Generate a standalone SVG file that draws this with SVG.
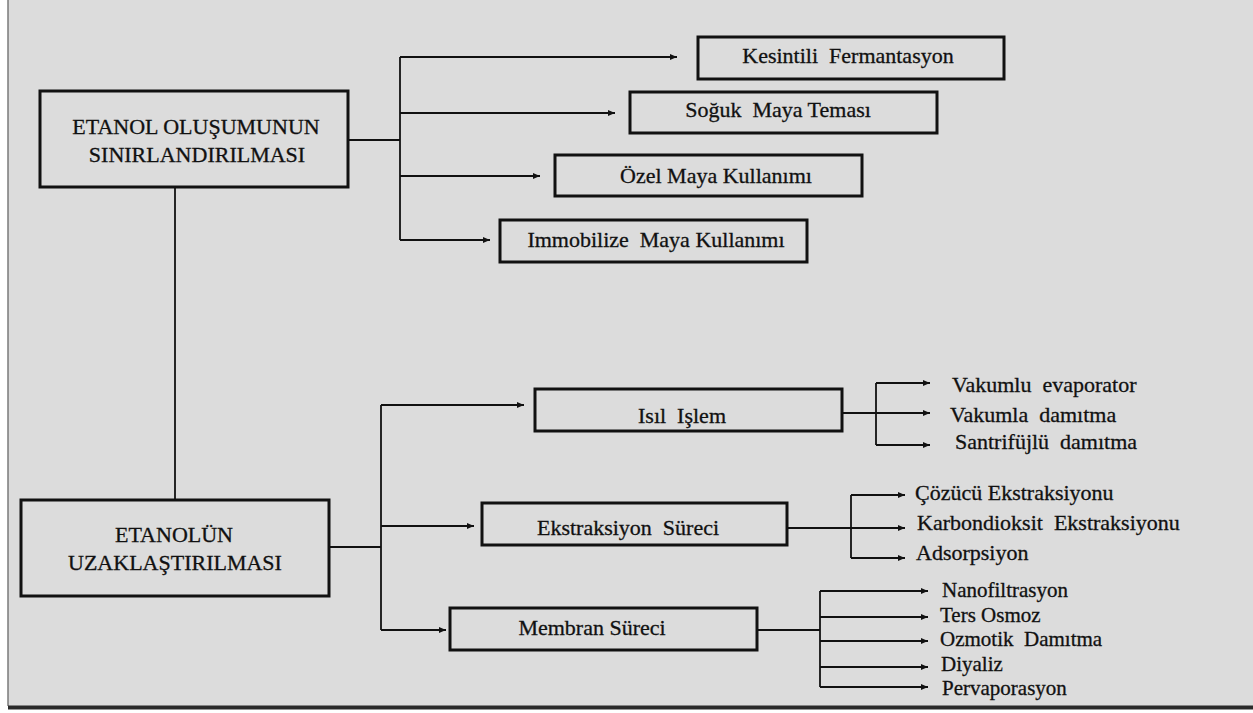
<svg xmlns="http://www.w3.org/2000/svg" width="1253" height="713" viewBox="0 0 1253 713">
<style>
.bg{fill:#dcdcdc}
.box{fill:none;stroke:#111;stroke-width:3}
.ln{fill:none;stroke:#111;stroke-width:1.8}
.arr{fill:none;stroke:#111;stroke-width:1.8;marker-end:url(#ah)}
.t{font-family:'Liberation Serif','Times New Roman','DejaVu Serif',serif;font-size:22px;fill:#111;stroke:#111;stroke-width:0.3}
.s{font-size:21px}
.c{text-anchor:middle}
</style>
<defs>
<marker id="ah" markerUnits="userSpaceOnUse" markerWidth="8" markerHeight="8" refX="7" refY="3" orient="auto">
<path d="M0,0 L7,3 L0,6 z" fill="#111"/>
</marker>
</defs>
<rect x="0" y="0" width="1253" height="713" fill="#ffffff"/>
<rect class="bg" x="8" y="0" width="1245" height="706"/>
<line x1="8" y1="0" x2="8" y2="706" stroke="#7a7a7a" stroke-width="1.5"/>
<line x1="8" y1="707.5" x2="1253" y2="707.5" stroke="#2a2a2a" stroke-width="4"/>

<g id="connectors">
<path class="ln" d="M348,140 H400"/>
<path class="ln" d="M400,57 V240"/>
<path class="arr" d="M400,57 H677"/>
<path class="arr" d="M400,113 H615"/>
<path class="arr" d="M400,176 H540"/>
<path class="arr" d="M400,240 H490"/>
<path class="ln" d="M175,187 V500"/>
<path class="ln" d="M329,547 H381"/>
<path class="ln" d="M381,405 V630"/>
<path class="arr" d="M381,405 H524"/>
<path class="arr" d="M381,526 H474"/>
<path class="arr" d="M381,630 H446"/>
<path class="ln" d="M842,413 H876"/>
<path class="ln" d="M876,383 V445"/>
<path class="arr" d="M876,383 H930"/>
<path class="arr" d="M876,413 H930"/>
<path class="arr" d="M876,445 H930"/>
<path class="ln" d="M787,528 H851"/>
<path class="ln" d="M851,495 V558"/>
<path class="arr" d="M851,495 H905"/>
<path class="arr" d="M851,528 H905"/>
<path class="arr" d="M851,558 H905"/>
<path class="ln" d="M757,630 H820"/>
<path class="ln" d="M820,591 V687"/>
<path class="arr" d="M820,591 H928"/>
<path class="arr" d="M820,617 H928"/>
<path class="arr" d="M820,641 H928"/>
<path class="arr" d="M820,667 H928"/>
<path class="arr" d="M820,687 H928"/>
</g>

<g id="etanol-olusumu">
<rect class="box" x="40" y="91" width="308" height="96"/>
<text class="t c" x="196" y="134">ETANOL OLUŞUMUNUN</text>
<text class="t c" x="197" y="162">SINIRLANDIRILMASI</text>
</g>
<g id="kesintili">
<rect class="box" x="698" y="37" width="306" height="42"/>
<text class="t c" x="848" y="63" xml:space="preserve">Kesintili  Fermantasyon</text>
</g>
<g id="soguk">
<rect class="box" x="630" y="92" width="307" height="41"/>
<text class="t c" x="778" y="117" xml:space="preserve">Soğuk  Maya Teması</text>
</g>
<g id="ozel">
<rect class="box" x="555" y="155" width="307" height="41"/>
<text class="t c" x="716" y="183">Özel Maya Kullanımı</text>
</g>
<g id="immobilize">
<rect class="box" x="500" y="220" width="307" height="42"/>
<text class="t c" x="656" y="247" xml:space="preserve">Immobilize  Maya Kullanımı</text>
</g>

<g id="etanol-uzak">
<rect class="box" x="21" y="500" width="308" height="96"/>
<text class="t c" x="174" y="542">ETANOLÜN</text>
<text class="t c" x="175" y="570">UZAKLAŞTIRILMASI</text>
</g>
<g id="isil">
<rect class="box" x="535" y="389" width="307" height="42"/>
<text class="t c" x="682" y="423" xml:space="preserve">Isıl  Işlem</text>
</g>
<g id="ekstraksiyon">
<rect class="box" x="482" y="503" width="305" height="42"/>
<text class="t c" x="628" y="535" xml:space="preserve">Ekstraksiyon  Süreci</text>
</g>
<g id="membran">
<rect class="box" x="450" y="608" width="307" height="42"/>
<text class="t c" x="592" y="635">Membran Süreci</text>
</g>

<g id="isil-items">
<text class="t" x="952" y="392" xml:space="preserve">Vakumlu  evaporator</text>
<text class="t" x="950" y="422" xml:space="preserve">Vakumla  damıtma</text>
<text class="t" x="955" y="449" xml:space="preserve">Santrifüjlü  damıtma</text>
</g>
<g id="ekstraksiyon-items">
<text class="t" x="915" y="500">Çözücü Ekstraksiyonu</text>
<text class="t" x="917" y="530" xml:space="preserve">Karbondioksit  Ekstraksiyonu</text>
<text class="t" x="916" y="560">Adsorpsiyon</text>
</g>
<g id="membran-items">
<text class="t s" x="942" y="597">Nanofiltrasyon</text>
<text class="t s" x="940" y="622">Ters Osmoz</text>
<text class="t s" x="940" y="646" xml:space="preserve">Ozmotik  Damıtma</text>
<text class="t s" x="941" y="671">Diyaliz</text>
<text class="t s" x="942" y="695">Pervaporasyon</text>
</g>
</svg>
